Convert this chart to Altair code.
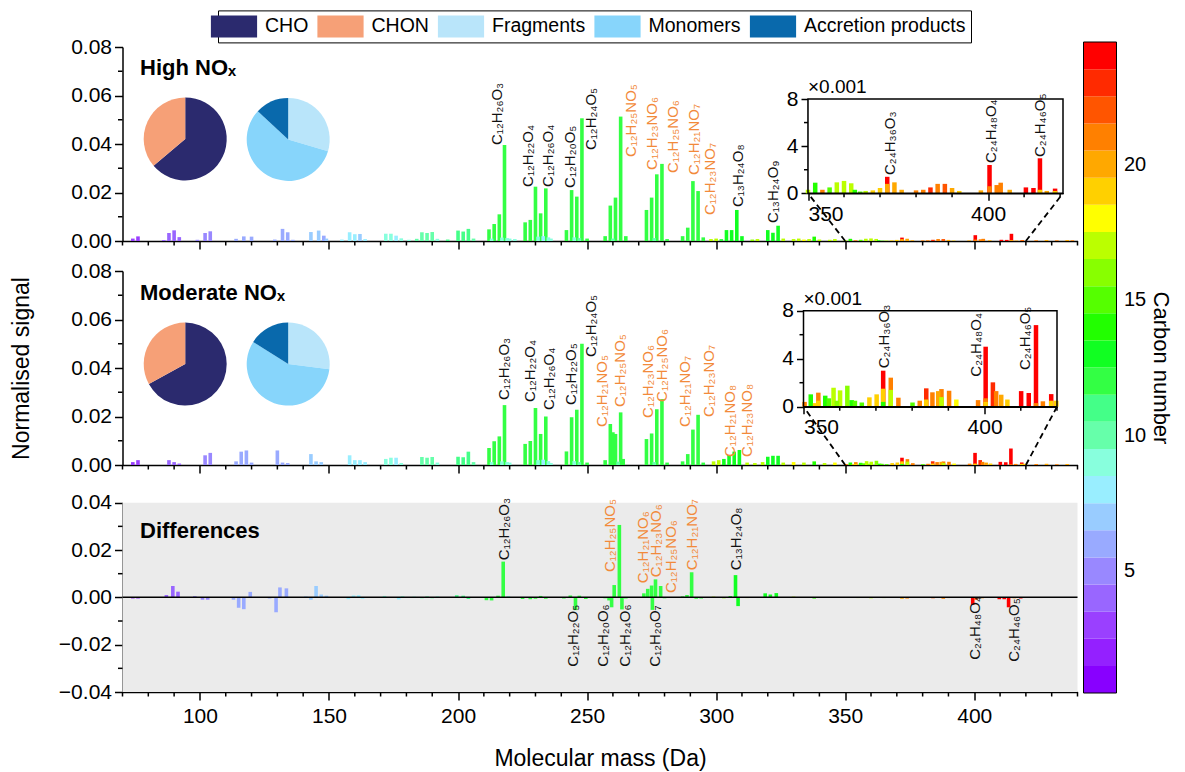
import altair as alt
import pandas as pd

FONT = "Liberation Sans, Arial, DejaVu Sans, sans-serif"

# ---------------- colour keys ----------------
carbon_numbers = list(range(1, 25))
carbon_colors = ["#8800FF", "#9420FF", "#9A40FF", "#9966FF", "#9988FF", "#99AAFF",
                 "#99CCFF", "#99EEFF", "#88FFDD", "#66FFAA", "#44FF88", "#33FF44",
                 "#11FF22", "#22FF00", "#55FF00", "#88FF00", "#BBFF00", "#FFFF00",
                 "#FFD000", "#FFA800", "#FF8000", "#FF5500", "#FF2A00", "#FF0000"]
group_names = ["CHO", "CHON", "Fragments", "Monomers", "Accretion products"]
group_colors = ["#2B2A6E", "#F6A077", "#B9E5FA", "#87D5FB", "#0969AC"]

# ---------------- High NOx spectrum (normalised signal) ----------------
high_mass = [74, 76, 86, 88, 90, 92, 99, 102, 104, 114, 117, 120, 129, 132, 134, 136,
             143, 146, 148, 149, 155, 158, 160, 162, 164, 172, 174, 176, 178, 181, 184,
             186, 188, 190, 192, 196, 200, 202, 204, 206, 212, 214, 216, 218, 220, 222,
             226, 228, 230, 232, 234, 236, 242, 244, 246, 248, 250, 257, 259, 261, 263,
             265, 273, 275, 277, 279, 281, 287, 289, 291, 293, 295, 298, 300, 302, 304,
             306, 308, 310, 314, 316, 320, 322, 324, 326, 330, 332, 334, 336, 338, 340,
             344, 346, 424, 428, 432, 436, 438,
             213, 217, 219, 231, 233, 235, 245, 247, 260, 276]
high_val = [0.0010, 0.0019, 0.0004, 0.0033, 0.0044, 0.0016, 0.0005, 0.0033, 0.0040, 0.0009,
            0.0019, 0.0018, 0.0006, 0.0050, 0.0036, 0.0005, 0.0037, 0.0043, 0.0022, 0.0010,
            0.0006, 0.0036, 0.0028, 0.0029, 0.0008, 0.0030, 0.0030, 0.0022, 0.0011, 0.0005,
            0.0009, 0.0036, 0.0033, 0.0037, 0.0009, 0.0006, 0.0043, 0.0039, 0.0050, 0.0010,
            0.0048, 0.0070, 0.0110, 0.0396, 0.0010, 0.0008, 0.0077, 0.0087, 0.0224, 0.0114,
            0.0217, 0.0010, 0.0045, 0.0210, 0.0183, 0.0506, 0.0010, 0.0020, 0.0146, 0.0179,
            0.0513, 0.0020, 0.0128, 0.0179, 0.0275, 0.0318, 0.0008, 0.0020, 0.0055, 0.0247,
            0.0206, 0.0015, 0.0008, 0.0010, 0.0008, 0.0045, 0.0045, 0.0128, 0.0020, 0.0006,
            0.0008, 0.0045, 0.0034, 0.0063, 0.0010, 0.0008, 0.0010, 0.0006, 0.0008, 0.0018,
            0.0006, 0.0005, 0.0008, 0.0003, 0.0004, 0.0003, 0.0004, 0.0003,
            0.0010, 0.0014, 0.0012, 0.0018, 0.0020, 0.0015, 0.0015, 0.0012, 0.0010, 0.0012]
high_c = [3, 3, 4, 4, 4, 4, 5, 5, 5, 6, 6, 6, 6, 6, 6, 6,
          7, 7, 6, 7, 8, 8, 8, 7, 8, 9, 9, 8, 9, 9, 10,
          10, 10, 10, 9, 11, 11, 11, 11, 10, 12, 12, 12, 12, 9, 9,
          12, 12, 12, 12, 12, 9, 12, 12, 12, 12, 12, 12, 12, 12, 12,
          12, 12, 12, 12, 12, 12, 12, 12, 12, 12, 12, 17, 17, 12, 13,
          13, 13, 13, 16, 17, 13, 13, 13, 17, 17, 17, 18, 17, 14, 17,
          17, 17, 21, 20, 21, 20, 21,
          9, 9, 9, 9, 8, 9, 9, 10, 10, 10]

# High NOx, 350-420 Da (inset units: x0.001)
high_in_mass = [350, 352, 354, 356, 358, 360, 362, 363, 364.5, 366, 368, 370, 372, 372, 374,
                376, 380, 382, 384, 386, 388, 390, 392, 398, 400.4, 400.4, 402.4, 403.5, 406,
                410.5, 412.6, 414.4, 414.4, 416.3, 418.6, 418.6]
high_in_val = [0.3, 0.9, 0.3, 0.5, 0.93, 1.05, 0.85, 0.3, 0.15, 0.2, 0.25, 0.45, 1.4, 0.8, 0.93,
               0.3, 0.25, 0.3, 0.5, 0.8, 0.8, 0.45, 0.2, 0.25, 2.4, 0.6, 0.7, 0.9, 0.3,
               0.5, 0.45, 2.97, 0.3, 0.2, 0.4, 0.2]
high_in_c = [17, 14, 21, 15, 17, 17, 17, 14, 15, 17, 19, 19, 24, 20, 20,
             20, 21, 21, 23, 21, 22, 20, 19, 20, 24, 21, 21, 21, 20,
             24, 24, 24, 19, 20, 24, 19]

# ---------------- Moderate NOx spectrum ----------------
mod_mass = [74, 76, 88, 90, 92, 102, 104, 114, 116, 118, 120, 130, 132, 134, 143, 145, 147,
            158, 160, 162, 164, 172, 174, 176, 178, 186, 188, 190, 192, 200, 202, 204, 206,
            212, 214, 216, 218, 220, 226, 228, 230, 232, 234, 236, 242, 244, 246, 248, 250,
            257, 259, 260, 261, 263, 264, 273, 275, 277, 279, 281, 287, 289, 291, 293, 295,
            299, 301, 303, 305, 307, 309, 312, 315, 318, 320, 322, 324, 326, 330, 334, 338,
            342, 346, 424, 428, 432, 436,
            213, 217, 219, 231, 233, 235, 245, 247, 262, 276]
mod_val = [0.0012, 0.0020, 0.0020, 0.0012, 0.0006, 0.0040, 0.0050, 0.0015, 0.0055, 0.0060,
           0.0010, 0.0060, 0.0010, 0.0008, 0.0045, 0.0015, 0.0012,
           0.0040, 0.0020, 0.0020, 0.0012, 0.0025, 0.0030, 0.0030, 0.0008, 0.0033, 0.0030,
           0.0033, 0.0010, 0.0034, 0.0032, 0.0055, 0.0012,
           0.0070, 0.0098, 0.0118, 0.0247, 0.0010, 0.0087, 0.0099, 0.0235, 0.0128, 0.0200,
           0.0008, 0.0056, 0.0197, 0.0228, 0.0500, 0.0010,
           0.0020, 0.0169, 0.0135, 0.0128, 0.0217, 0.0025, 0.0107, 0.0130, 0.0230, 0.0272,
           0.0010, 0.0015, 0.0045, 0.0146, 0.0207, 0.0010,
           0.0015, 0.0020, 0.0025, 0.0041, 0.0055, 0.0062, 0.0010, 0.0008, 0.0012, 0.0034,
           0.0038, 0.0038, 0.0010, 0.0012, 0.0010, 0.0015,
           0.0008, 0.0010, 0.0004, 0.0005, 0.0003, 0.0004,
           0.0012, 0.0015, 0.0012, 0.0020, 0.0022, 0.0016, 0.0016, 0.0012, 0.0014, 0.0012]
mod_c = [3, 3, 4, 4, 4, 5, 5, 6, 6, 6, 6, 6, 6, 6, 7, 7, 7,
         8, 8, 8, 8, 9, 9, 8, 9, 10, 10, 10, 9, 11, 11, 11, 10,
         12, 12, 12, 12, 9, 12, 12, 12, 12, 12, 9, 12, 12, 12, 12, 12,
         12, 12, 12, 12, 12, 12, 12, 12, 12, 12, 12, 12, 12, 12, 12, 12,
         17, 17, 13, 13, 13, 13, 17, 17, 17, 13, 13, 13, 17, 18, 17, 14,
         17, 18, 21, 20, 21, 20,
         9, 9, 9, 9, 8, 9, 9, 10, 10, 10]

mod_in_mass = [350.3, 352, 353.2, 354.1, 354.1, 356, 357, 358.3, 359.2, 360.1, 362.1, 363.3,
               364.2, 366.1, 368.2, 370.2, 372, 372, 372, 374.1, 374.1, 376.2, 380.1, 382.1,
               383.9, 383.9, 385.6, 387.2, 388.1, 388.1, 390.2, 392.2, 398.2, 400.3, 400.3,
               400.3, 402.3, 403.2, 404.6, 406.3, 410.1, 412.2, 414.2, 414.2, 416.1, 418.4,
               418.4, 419.8]
mod_in_val = [0.4, 1.03, 0.3, 1.17, 0.5, 0.92, 0.7, 1.58, 0.5, 1.36, 1.75, 0.55,
              0.5, 0.35, 0.78, 1.03, 3.0, 1.5, 0.4, 2.42, 1.4, 0.75, 0.35, 0.5,
              1.53, 0.6, 1.2, 1.3, 1.47, 0.8, 1.33, 0.6, 0.55, 5.0, 0.7,
              0.4, 2.03, 1.3, 1.0, 0.6, 1.3, 1.14, 6.8, 0.3, 0.45, 1.05,
              0.5, 0.5]
mod_in_c = [21, 14, 19, 21, 19, 14, 15, 17, 16, 17, 16, 14,
            15, 15, 19, 19, 24, 19, 14, 21, 17, 21, 15, 21,
            23, 19, 21, 20, 21, 17, 21, 18, 21, 24, 21,
            19, 23, 21, 20, 19, 24, 24, 24, 21, 21, 24,
            19, 19]

# ---------------- Differences (High - Moderate) ----------------
diff_mass = [74, 76, 87, 89.5, 91.5, 98, 101, 103, 113, 115, 117, 119.5, 127, 129.5, 131,
             133.5, 141, 143, 145, 147, 149, 157.5, 159.5, 161.5, 163, 171.5, 177, 178.5,
             183, 186, 188, 190, 192, 199.5, 202, 204, 211, 213, 215.5, 217.5, 219.5, 225,
             228, 230, 232, 234, 241, 243.5, 245.5, 247, 249.5, 257, 258.5, 259.5, 260.5,
             262.5, 263.5, 265, 272, 273.5, 275, 275.3, 276.5, 278.5, 280, 287, 288.7, 290.5,
             292.3, 294.2, 299, 303, 305.5, 307.5, 308.5, 312, 319, 321, 323.3, 330, 338,
             355, 360, 365, 372, 374, 384, 388, 390, 399.4, 400.7, 403, 409.7, 411.6, 413.3,
             415.5, 418, 425, 432]
diff_val = [-0.0005, -0.0005, 0.0010, 0.0048, 0.0024, 0.0005, -0.0010, -0.0010, -0.0010,
            -0.0044, -0.0050, 0.0023, -0.0005, -0.0063, 0.0042, 0.0038, 0.0004, -0.0010,
            0.0048, 0.0012, 0.0007, -0.0008, 0.0008, 0.0009, -0.0006, 0.0006, -0.0009,
            0.0005, 0.0003, -0.0004, 0.0004, -0.0004, 0.0004, 0.0009, 0.0007, -0.0007,
            -0.0012, -0.0013, 0.0007, 0.0151, 0.0005, -0.0007, -0.0008, -0.0006, 0.0006,
            -0.0006, -0.0005, 0.0008, -0.0054, 0.0007, -0.0007, -0.0004, -0.0013, -0.0042,
            0.0052, 0.0306, -0.0051, -0.0005, 0.0017, 0.0036, 0.0050, -0.0053, 0.0076,
            0.0048, -0.0004, 0.0004, 0.0010, 0.0106, -0.0006, -0.0005, 0.0003, -0.0004,
            0.0005, 0.0094, -0.0037, -0.0003, 0.0017, 0.0012, 0.0018, 0.0003, -0.0005,
            -0.0003, -0.0004, -0.0003, -0.0006, -0.0005, -0.0004, -0.0006, -0.0003, -0.0032,
            -0.0010, -0.0004, -0.0008, -0.0008, -0.0042, -0.0004, -0.0005, -0.0002, -0.0002]
diff_c = [3, 3, 4, 4, 4, 5, 5, 5, 6, 6, 6, 6, 6, 6, 6,
          6, 7, 7, 7, 7, 7, 8, 8, 8, 8, 9, 8, 9,
          9, 10, 10, 10, 9, 11, 11, 11, 12, 12, 12, 12, 9, 12,
          12, 12, 12, 12, 12, 12, 12, 12, 12, 12, 12, 12, 12,
          12, 12, 12, 12, 12, 12, 12, 12, 12, 12, 12, 12, 12,
          12, 12, 17, 16, 13, 13, 13, 17, 13, 13, 13, 17, 14,
          17, 17, 16, 20, 21, 22, 21, 20, 24, 22, 21, 24, 24, 24,
          21, 24, 20, 20]

# ---------------- pie charts (% of signal) ----------------
high_pie_class = [63.8, 36.2]            # CHO, CHON
high_pie_type = [29.6, 57.3, 13.1]       # Fragments, Monomers, Accretion products
mod_pie_class = [67.0, 33.0]
mod_pie_type = [27.0, 57.0, 16.0]

# ---------------- annotations ----------------
high_lab_text = ["C₁₂H₂₆O₃", "C₁₂H₂₂O₄", "C₁₂H₂₆O₄", "C₁₂H₂₀O₅", "C₁₂H₂₄O₅", "C₁₂H₂₅NO₅",
                 "C₁₂H₂₃NO₆", "C₁₂H₂₅NO₆", "C₁₂H₂₁NO₇", "C₁₂H₂₃NO₇", "C₁₃H₂₄O₈", "C₁₃H₂₄O₉"]
high_lab_x = [215.0, 227.0, 234.7, 243.3, 251.4, 266.9, 275.0, 283.1, 291.6, 297.8, 308.3, 322.2]
high_lab_y = [0.0396, 0.0223, 0.0223, 0.0219, 0.0375, 0.0346, 0.0293, 0.0280, 0.0272, 0.0107,
              0.0140, 0.0074]
high_lab_kind = ["CHO"] * 5 + ["CHON"] * 5 + ["CHO"] * 2

mod_lab_text = ["C₁₂H₂₆O₃", "C₁₂H₂₂O₄", "C₁₂H₂₆O₄", "C₁₂H₂₂O₅", "C₁₂H₂₄O₅", "C₁₂H₂₁NO₅",
                "C₁₂H₂₅NO₅", "C₁₂H₂₃NO₆", "C₁₂H₂₅NO₆", "C₁₂H₂₁NO₇", "C₁₂H₂₃NO₇", "C₁₂H₂₁NO₈",
                "C₁₂H₂₃NO₈"]
mod_lab_x = [217.7, 227.8, 235.1, 243.6, 251.4, 255.7, 262.9, 273.5, 278.9, 288.1, 297.1,
             305.2, 312.1]
mod_lab_y = [0.0268, 0.0260, 0.0227, 0.0247, 0.0445, 0.0157, 0.0239, 0.0194, 0.0260, 0.0157,
             0.0198, 0.0033, 0.0033]
mod_lab_kind = ["CHO"] * 5 + ["CHON"] * 8

diff_lab_text = ["C₁₂H₂₆O₃", "C₁₂H₂₅NO₅", "C₁₂H₂₁NO₆", "C₁₂H₂₃NO₆", "C₁₂H₂₅NO₆", "C₁₂H₂₁NO₇",
                 "C₁₃H₂₄O₈", "C₁₂H₂₂O₅", "C₁₂H₂₀O₆", "C₁₂H₂₄O₆", "C₁₂H₂₀O₇", "C₂₄H₄₈O₄",
                 "C₂₄H₄₆O₅"]
diff_lab_x = [217.7, 258.7, 271.5, 276.6, 282.4, 290.5, 307.5, 244.4, 256.0, 264.5, 276.2,
              400.4, 415.5]
diff_lab_y = [0.0157, 0.0107, 0.0060, 0.0085, 0.0018, 0.0115, 0.0115, -0.0293, -0.0293,
              -0.0293, -0.0293, -0.0264, -0.0272]
diff_lab_kind = ["CHO"] + ["CHON"] * 5 + ["CHO"] * 7

inset_lab_text = ["C₂₄H₃₆O₃", "C₂₄H₄₈O₄", "C₂₄H₄₆O₅"]
high_in_lab_x = [372.7, 400.7, 414.4]
high_in_lab_y = [1.55, 2.57, 3.08]
mod_in_lab_x = [372.1, 397.7, 411.2]
mod_in_lab_y = [3.2, 2.5, 3.05]

# ---------------- layout (pixels inside the plot area) ----------------
W = 955
HT = 645                       # whole plot area height
TOP = (0, 194)                 # (top, bottom) of each panel
MID = (224, 418)
BOT = (455.7, 645)
LABEL_SIZE = 15

XS_DOMAIN = [70, 440]
CS = alt.Scale(domain=carbon_numbers, range=carbon_colors)
GS = alt.Scale(domain=group_names, range=group_colors)
x_major = list(range(100, 401, 50))
x_minor = [v for v in range(70, 441, 10) if v % 50]


def spectrum_df(mass, val, c):
    df = pd.DataFrame({"mass": mass, "val": val, "c": c})
    df["k"] = df["val"].abs()
    return df.sort_values("k", ascending=False).drop(columns="k")


def label_df(text, x, y, kind):
    return pd.DataFrame({"t": text, "x": x, "y": y, "kind": kind})


def axis_common():
    return dict(tickColor="black", tickWidth=1.5, domainColor="black", domainWidth=1.5,
                grid=False, labelFont=FONT, labelFontSize=21, labelColor="black")


def text_layer(df, xs, ys, xax, yax):
    return alt.Chart(df).transform_calculate(
        col="datum.kind == 'CHON' ? '#F28A3A' : '#111111'"
    ).mark_text(angle=270, align="left", baseline="middle", font=FONT,
                fontSize=LABEL_SIZE).encode(
        x=alt.X("x:Q", scale=xs, axis=xax),
        y=alt.Y("y:Q", scale=ys, axis=yax),
        text="t:N",
        color=alt.Color("col:N", scale=None),
    )


def note(text, x, y, size, weight="normal"):
    return alt.Chart(pd.DataFrame({"t": [text]})).mark_text(
        align="left", baseline="alphabetic", font=FONT, fontSize=size, fontWeight=weight,
        color="black").encode(text="t:N", x=alt.value(x), y=alt.value(y))


def one():
    return alt.Chart(pd.DataFrame({"a": [0]}))


def panel(bars_df, labs, box, ydom, ymajor, yminor, ytitle, xlabels, xtitle, title,
          title_dy, pies=None, legend=None, background=None, inset_box=None):
    T, B = box
    xs = alt.Scale(domain=XS_DOMAIN, range=[0, W], nice=False, zero=False)
    ys = alt.Scale(domain=ydom, range=[B, T], nice=False, zero=False)
    xkw = axis_common()
    xkw.update(values=x_major, labels=xlabels, tickSize=8, labelPadding=5, format="d",
               orient="bottom", offset=B - HT)
    if xtitle:
        xkw.update(title=xtitle, titleFont=FONT, titleFontSize=23, titleFontWeight="normal",
                   titleColor="black", titlePadding=21)
    else:
        xkw.update(title=None)
    xax = alt.Axis(**xkw)
    ykw = axis_common()
    ykw.update(values=ymajor, format=".2f", tickSize=8, labelPadding=3, orient="left")
    if ytitle:
        ykw.update(title=ytitle, titleFont=FONT, titleFontSize=23, titleFontWeight="normal",
                   titleColor="black", titlePadding=37)
    else:
        ykw.update(title=None)
    yax = alt.Axis(**ykw)

    layers = []
    if background:
        layers.append(one().mark_rect(color=background).encode(
            x=alt.value(0), x2=alt.value(W), y=alt.value(T), y2=alt.value(B)))
    layers.append(alt.Chart(pd.DataFrame({"t": x_minor})).mark_rule(
        color="black", strokeWidth=1.5).encode(
        x=alt.X("t:Q", scale=xs, axis=xax), y=alt.value(B), y2=alt.value(B + 4.5)))
    layers.append(alt.Chart(pd.DataFrame({"t": yminor})).mark_rule(
        color="black", strokeWidth=1.5).encode(
        y=alt.Y("t:Q", scale=ys, axis=yax), x=alt.value(0), x2=alt.value(-4.5)))
    layers.append(alt.Chart(bars_df).mark_rule(strokeWidth=3.6).encode(
        x=alt.X("mass:Q", scale=xs, axis=xax),
        y=alt.Y("val:Q", scale=ys, axis=yax),
        y2=alt.Y2Datum(0),
        color=alt.Color("c:O", scale=CS, legend=None)))
    if background:
        layers.append(one().mark_rule(color="black", strokeWidth=1.5).encode(
            y=alt.YDatum(0, type="quantitative", scale=ys, axis=yax),
            x=alt.value(0), x2=alt.value(W)))
    layers.append(text_layer(labs, xs, ys, xax, yax))
    layers.append(note(title, 17.5, T + title_dy, 22, "bold"))
    if pies:
        for (cx, cy, vals, names) in pies:
            pdf = pd.DataFrame({"g": names, "v": vals, "o": list(range(len(vals)))})
            layers.append(alt.Chart(pdf).mark_arc(radius=41.5).encode(
                theta=alt.Theta("v:Q", stack=True),
                fill=alt.Fill("g:N", scale=GS, legend=legend),
                order=alt.Order("o:Q"),
                x=alt.XDatum(cx, type="quantitative", scale=xs, axis=xax),
                y=alt.YDatum(cy, type="quantitative", scale=ys, axis=yax)))
    if inset_box:
        L, R, IT, IB = inset_box
        for m, px in ((350, L), (420, R)):
            layers.append(one().mark_rule(
                color="black", strokeWidth=1.8, strokeDash=[6, 4]).encode(
                x=alt.XDatum(m, type="quantitative", scale=xs, axis=xax),
                y=alt.YDatum(0, type="quantitative", scale=ys, axis=yax),
                x2=alt.value(px), y2=alt.value(IB)))
    return alt.layer(*layers)


def inset(idf, labs, box, xmax):
    L, R, T, B = box
    ixs = alt.Scale(domain=[350, xmax], range=[L, R], nice=False, zero=False)
    iys = alt.Scale(domain=[0, 8], range=[B, T], nice=False, zero=False)
    ic = axis_common()
    ixax = alt.Axis(values=[350, 400], orient="bottom", offset=B - HT, tickSize=7,
                    labelPadding=3, format="d", title=None, **ic)
    iyax = alt.Axis(values=[0, 4, 8], orient="left", offset=-L, tickSize=7,
                    labelPadding=3, format="d", title=None, **ic)
    frame = dict(x=alt.XDatum(350, type="quantitative", scale=ixs, axis=ixax),
                 x2=alt.X2Datum(xmax),
                 y=alt.YDatum(0, type="quantitative", scale=iys, axis=iyax),
                 y2=alt.Y2Datum(8))
    return alt.layer(
        one().mark_rect(fill="white").encode(**frame),
        alt.Chart(pd.DataFrame({"t": [360, 370, 380, 390, 410, 420]})).mark_rule(
            color="black", strokeWidth=1.5).encode(
            x=alt.X("t:Q", scale=ixs, axis=ixax), y=alt.value(B), y2=alt.value(B + 4)),
        alt.Chart(pd.DataFrame({"t": [2, 6]})).mark_rule(
            color="black", strokeWidth=1.5).encode(
            y=alt.Y("t:Q", scale=iys, axis=iyax), x=alt.value(L), x2=alt.value(L - 4)),
        alt.Chart(idf).mark_rule(strokeWidth=4.5).encode(
            x=alt.X("mass:Q", scale=ixs, axis=ixax),
            y=alt.Y("val:Q", scale=iys, axis=iyax),
            y2=alt.Y2Datum(0),
            color=alt.Color("c:O", scale=CS, legend=None)),
        text_layer(labs, ixs, iys, ixax, iyax),
        one().mark_rect(fillOpacity=0, stroke="black", strokeWidth=1.5).encode(**frame),
        note("×0.001", L, T - 6, 19),
    )


# ---------------- build data frames ----------------
high_in = spectrum_df(high_in_mass, high_in_val, high_in_c)
mod_in = spectrum_df(mod_in_mass, mod_in_val, mod_in_c)
high_all = spectrum_df(high_mass + high_in_mass, high_val + [v / 1000 for v in high_in_val],
                       high_c + high_in_c)
mod_all = spectrum_df(mod_mass + mod_in_mass, mod_val + [v / 1000 for v in mod_in_val],
                      mod_c + mod_in_c)
diff_all = spectrum_df(diff_mass, diff_val, diff_c)

legend = alt.Legend(orient="none", legendX=95.5, legendY=-36.6, direction="horizontal",
                    title=None, symbolType="M-2.1,-1L2.1,-1L2.1,1L-2.1,1Z", symbolSize=484,
                    symbolStrokeWidth=0, symbolOpacity=1, labelFont=FONT, labelFontSize=19.5,
                    labelColor="black", labelOffset=20, columnPadding=7.5, padding=5,
                    strokeColor="black", fillColor="white", labelLimit=400)

TOP_INSET = (685.5, 940.5, TOP[0] + 52, TOP[0] + 146.3)
MID_INSET = (681, 934.5, MID[0] + 39.7, MID[0] + 135.7)

top_main = panel(high_all, label_df(high_lab_text, high_lab_x, high_lab_y, high_lab_kind),
                 TOP, [0, 0.08], [0, 0.02, 0.04, 0.06, 0.08], [0.01, 0.03, 0.05, 0.07], None,
                 False, None, "High NOₓ", 28,
                 pies=[(94.3, 0.0421, high_pie_class, group_names[:2]),
                       (134.2, 0.0419, high_pie_type, group_names[2:])],
                 legend=legend, inset_box=TOP_INSET)
top_inset = inset(high_in, label_df(inset_lab_text, high_in_lab_x, high_in_lab_y, ["CHO"] * 3),
                  TOP_INSET, 420.8)

mid_main = panel(mod_all, label_df(mod_lab_text, mod_lab_x, mod_lab_y, mod_lab_kind),
                 MID, [0, 0.08], [0, 0.02, 0.04, 0.06, 0.08], [0.01, 0.03, 0.05, 0.07],
                 "Normalised signal", False, None, "Moderate NOₓ", 29,
                 pies=[(94.3, 0.0416, mod_pie_class, group_names[:2]),
                       (134.2, 0.0416, mod_pie_type, group_names[2:])],
                 legend=legend, inset_box=MID_INSET)
mid_inset = inset(mod_in, label_df(inset_lab_text, mod_in_lab_x, mod_in_lab_y, ["CHO"] * 3),
                  MID_INSET, 420)

bot_main = panel(diff_all, label_df(diff_lab_text, diff_lab_x, diff_lab_y, diff_lab_kind),
                 BOT, [-0.04, 0.04], [-0.04, -0.02, 0, 0.02, 0.04],
                 [-0.03, -0.01, 0.01, 0.03], None, True, "Molecular mass (Da)",
                 "Differences", 35.5, background="#EBEBEB")

# ---------------- colour bar ----------------
CB_L, CB_R = 961, 994
cb_scale = alt.Scale(domain=[0.5, 24.5], range=[HT + 1, -5], nice=False, zero=False)
cb_axis = alt.Axis(orient="right", offset=CB_R - W, values=[5, 10, 15, 20], ticks=False,
                   domain=False, labelFont=FONT, labelFontSize=20, labelColor="black",
                   labelPadding=7, title="Carbon number", titleFont=FONT, titleFontSize=22,
                   titleFontWeight="normal", titleColor="black", titleAngle=90,
                   titlePadding=3, grid=False)
cb_df = pd.DataFrame({"c": carbon_numbers})
cbar = alt.layer(
    alt.Chart(cb_df).transform_calculate(lo="datum.c - 0.5", hi="datum.c + 0.5").mark_rect().encode(
        y=alt.Y("lo:Q", scale=cb_scale, axis=cb_axis), y2="hi:Q",
        x=alt.value(CB_L), x2=alt.value(CB_R),
        color=alt.Color("c:O", scale=CS, legend=None)),
    one().mark_rect(fillOpacity=0, stroke="black", strokeWidth=1).encode(
        y=alt.YDatum(0.5, type="quantitative", scale=cb_scale, axis=cb_axis),
        y2=alt.Y2Datum(24.5), x=alt.value(CB_L), x2=alt.value(CB_R)),
)

chart = alt.layer(top_main, top_inset, mid_main, mid_inset, bot_main, cbar).resolve_scale(
    x="independent", y="independent"
).properties(
    width=W, height=HT,
    padding={"left": 2.5, "top": 1, "right": 3, "bottom": 2}
).configure_view(stroke=None)

chart.save("out.html", embed_options={"renderer": "svg", "actions": False})
